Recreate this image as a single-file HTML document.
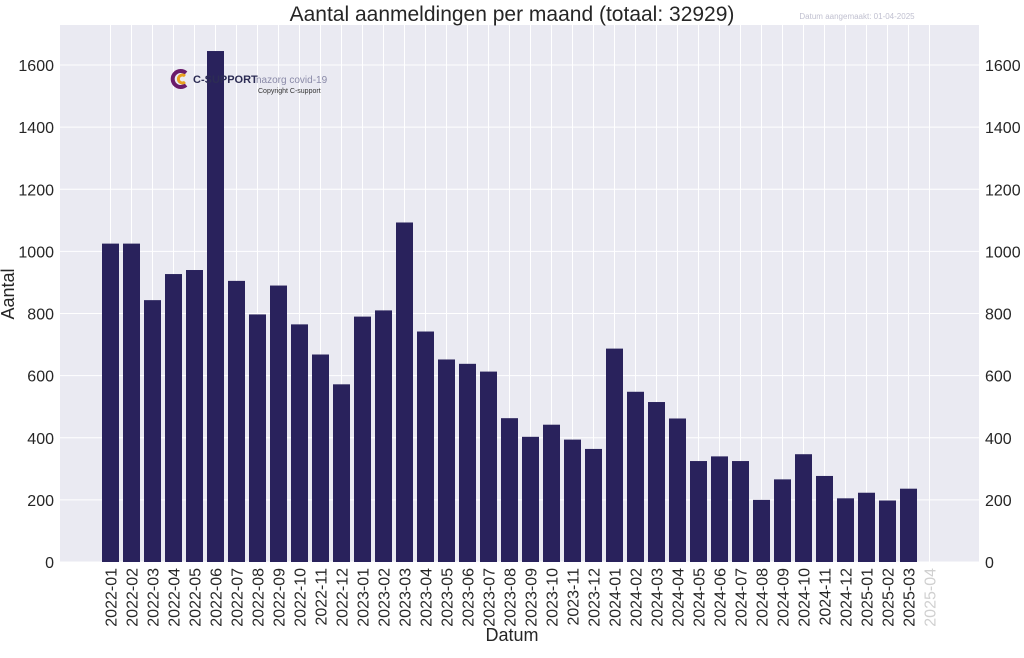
<!DOCTYPE html>
<html><head><meta charset="utf-8"><style>
body{margin:0;background:#fff;font-family:"Liberation Sans",sans-serif}
svg text{font-family:"Liberation Sans",sans-serif}
</style></head><body>
<svg id="chart" width="1024" height="653">
<rect x="60" y="25" width="919" height="537" fill="#eaeaf2"/>
<g id="grid"></g><g id="bars"></g><g id="axes"></g>
<text x="512" y="21" text-anchor="middle" font-size="21" fill="#262626">Aantal aanmeldingen per maand (totaal: 32929)</text>
<text x="857" y="19" text-anchor="middle" font-size="8" fill="#c0c0d0">Datum aangemaakt: 01-04-2025</text>
<text x="512" y="641" text-anchor="middle" font-size="18" fill="#262626">Datum</text>
<text x="14" y="294" text-anchor="middle" font-size="18" fill="#262626" transform="rotate(-90 14 294)">Aantal</text>
<g>
<path d="M186 73 A8 8 0 1 0 186 85" stroke="#6a1b6a" stroke-width="4" fill="none"/>
<path d="M185 76 A4 4 0 1 0 185 82" stroke="#e8a020" stroke-width="3" fill="none"/>
<text x="193" y="83" font-size="11" font-weight="bold" fill="#2c2c54">C-SUPPORT</text>
<text x="256" y="83" font-size="10" fill="#8a8aa8">nazorg covid-19</text>
<text x="258" y="93" font-size="7" fill="#333">Copyright C-support</text>
</g>
</svg>
<script>
const categories=["2022-01","2022-02","2022-03","2022-04","2022-05","2022-06","2022-07","2022-08","2022-09","2022-10","2022-11","2022-12","2023-01","2023-02","2023-03","2023-04","2023-05","2023-06","2023-07","2023-08","2023-09","2023-10","2023-11","2023-12","2024-01","2024-02","2024-03","2024-04","2024-05","2024-06","2024-07","2024-08","2024-09","2024-10","2024-11","2024-12","2025-01","2025-02","2025-03","2025-04"];
const values=[1025,1025,843,927,940,1645,905,797,890,765,668,572,790,810,1093,742,652,638,613,463,403,442,394,364,687,548,515,462,325,340,325,200,266,347,277,205,223,198,236,0];
const yTicks=[0,200,400,600,800,1000,1200,1400,1600];
const NS="http://www.w3.org/2000/svg";
const xs=i=>110.5+21*i;
const ys=v=>562-v*(497/1600);
const grid=document.getElementById('grid'),bars=document.getElementById('bars'),axes=document.getElementById('axes');
function mk(tag,attrs,parent,txt){const e=document.createElementNS(NS,tag);for(const k in attrs)e.setAttribute(k,attrs[k]);if(txt!==undefined)e.textContent=txt;parent.appendChild(e);return e;}
yTicks.forEach(t=>{
  const l=mk('line',{x1:60,x2:979,y1:ys(t),y2:ys(t),stroke:'#fff','stroke-width':1},grid);
  
  
  const a=mk('text',{x:54,y:ys(t)+6,'text-anchor':'end','font-size':16,fill:'#262626'},axes,t);
  
  
  const b=mk('text',{x:985,y:ys(t)+6,'text-anchor':'start','font-size':16,fill:'#262626'},axes,t);
  
  
});
categories.forEach((c,i)=>{
  const g=mk('line',{x1:xs(i),x2:xs(i),y1:25,y2:562,stroke:'#fff','stroke-width':1},grid);
  
  
  const r=mk('rect',{x:xs(i)-8.5,y:ys(values[i]),width:17,height:562-ys(values[i]),fill:'#29225c'},bars);
  
  
  const last=i===categories.length-1;
  const t=mk('text',{x:0,y:0,'text-anchor':'end','font-size':16,fill:last?'#d0d0d0':'#262626',transform:`translate(${xs(i)+6},568) rotate(-90)`},axes,c);
  
  
});
</script>
</body></html>
